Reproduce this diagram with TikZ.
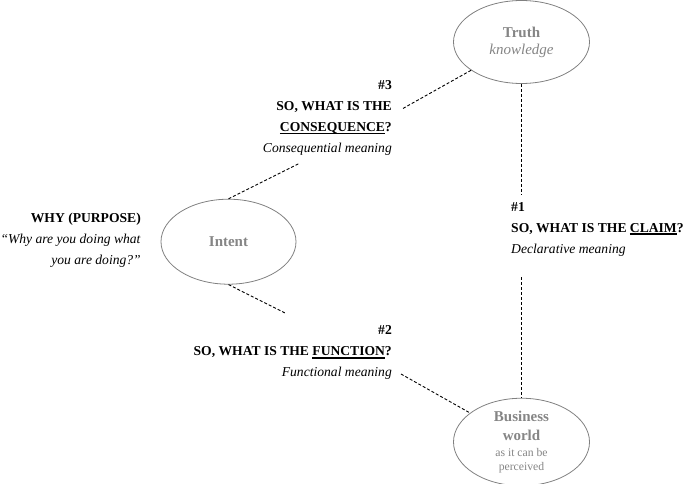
\documentclass[tikz,border=0pt]{standalone}
\usepackage{fontspec}
\setmainfont{Liberation Serif}
\usetikzlibrary{shapes, positioning}

\definecolor{ovalgray}{gray}{0.5}
\definecolor{textgray}{gray}{0.52}
\newcommand{\undl}[1]{\setbox0\hbox{#1}\rlap{\rule[-2.6pt]{\wd0}{1.3pt}}\box0}

\begin{document}
\begin{tikzpicture}[
    x=1pt, y=-1pt,
    oval/.style={ellipse, draw=ovalgray, line width=0.8pt, inner sep=0pt, minimum width=136pt, minimum height=84pt, align=center, text=textgray, font=\fontsize{15}{17}\selectfont},
    qtext/.style={inner sep=0pt, font=\fontsize{13.6}{21}\selectfont},
    link/.style={draw, line width=0.9pt, dash pattern=on 3pt off 2pt},
]
\useasboundingbox (0,0) rectangle (685,484);

% Ovals
\node[oval, minimum height=83pt] (truth) at (521.5,42) {\textbf{Truth}\\\textit{knowledge}};
\node[oval, minimum width=135pt, minimum height=85pt] (intent) at (228.5,241.7) {\textbf{Intent}};
\node[oval, minimum height=85pt, font=\fontsize{15}{19}\selectfont] (business) at (521.5,442) {\textbf{Business}\\\textbf{world}\\[-3pt]{\fontsize{11.7}{13}\selectfont as it can be}\\[-5pt]{\fontsize{11.7}{13}\selectfont perceived}};

% Questions
\node[qtext, anchor=north east, align=right] (conseq) at (392,80.5) {\textbf{\#3}\\\textbf{SO, WHAT IS THE}\\\textbf{\undl{CONSEQUENCE}?}\\\textit{Consequential meaning}};
\node[qtext, anchor=north east, align=right] (purpose) at (141,213) {\textbf{WHY (PURPOSE)}\\\textit{``Why are you doing what}\\\textit{you are doing?''}};
\node[qtext, anchor=north east, align=right] (function) at (392,325.7) {\textbf{\#2}\\\textbf{SO, WHAT IS THE \undl{FUNCTION}?}\\\textit{Functional meaning}};
\node[qtext, anchor=north west, align=left] (claim) at (511,202) {\textbf{\#1}\\\textbf{SO, WHAT IS THE \undl{CLAIM}?}\\\textit{Declarative meaning}};

% Free ends of the links
\coordinate (conseq_r) at (402,109);
\coordinate (conseq_b) at (300,163);
\coordinate (function_t) at (285,313);
\coordinate (function_r) at (401,374);
\coordinate (claim_t) at (521.5,195);
\coordinate (claim_b) at (521.5,277);

% Links
\draw[link] (truth) -- (conseq_r);
\draw[link] (intent.north) -- (conseq_b);
\draw[link] (intent.south) -- (function_t);
\draw[link] (function_r) -- (business);
\draw[link] (truth.south) -- (claim_t);
\draw[link] (claim_b) -- (business.north);

\end{tikzpicture}
\end{document}
